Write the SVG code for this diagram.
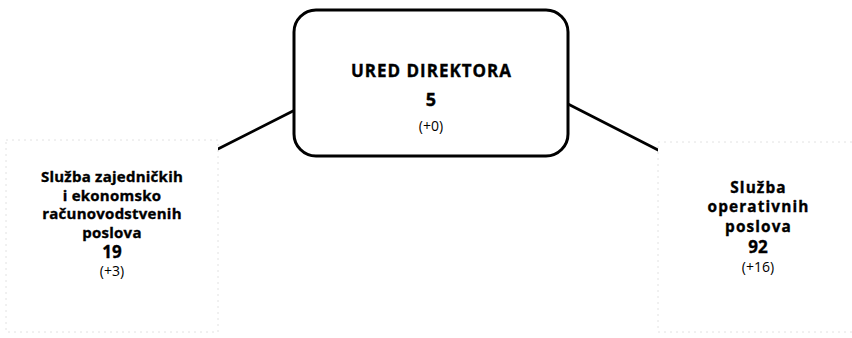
<svg xmlns="http://www.w3.org/2000/svg" width="852" height="338" viewBox="0 0 852 338">
<style>
  text { font-family: "Open Sans", "Noto Sans", "Liberation Sans", sans-serif; fill: #000; text-anchor: middle; }
  .b { font-weight: bold; stroke: #000; stroke-width: 0.35; }
  .r { font-weight: normal; }
  .main { fill: #fff; stroke: #000; stroke-width: 3; }
  .side { fill: #fff; stroke: #e2e2e2; stroke-width: 1; stroke-dasharray: 2 4; }
  .conn { stroke: #000; stroke-width: 2.8; fill: none; stroke-linecap: round; }
  .ls { font-size: 15px; letter-spacing: 0.25px; }
  .rs { font-size: 15.4px; letter-spacing: 1.1px; }
</style>
<rect width="852" height="338" fill="#fff"/>
<g id="connectors">
  <line class="conn" x1="293" y1="111" x2="212" y2="152"/>
  <line class="conn" x1="568" y1="104" x2="660" y2="151"/>
</g>
<g id="node-ured">
  <rect class="main" x="294" y="10" width="274" height="146" rx="22" ry="22"/>
  <text class="b" x="431.5" y="77" font-size="17" letter-spacing="1">URED DIREKTORA</text>
  <text class="b" x="431" y="106" font-size="18">5</text>
  <text class="r" x="431" y="131" font-size="14">(+0)</text>
</g>
<g id="node-zajednicki">
  <rect class="side" x="6" y="140" width="212" height="192"/>
  <text class="b ls" x="112" y="182">Služba zajedničkih</text>
  <text class="b ls" x="112" y="200.5">i ekonomsko</text>
  <text class="b ls" x="112" y="219">računovodstvenih</text>
  <text class="b ls" x="112" y="237.5">poslova</text>
  <text class="b" x="112" y="258" font-size="17">19</text>
  <text class="r" x="112" y="276" font-size="14">(+3)</text>
</g>
<g id="node-operativni">
  <rect class="side" x="658" y="142" width="200" height="190"/>
  <text class="b rs" x="758.5" y="192.5">Služba</text>
  <text class="b rs" x="758.5" y="212">operativnih</text>
  <text class="b rs" x="758.5" y="231.5">poslova</text>
  <text class="b" x="758" y="252.5" font-size="17">92</text>
  <text class="r" x="758" y="272" font-size="14">(+16)</text>
</g>
</svg>
